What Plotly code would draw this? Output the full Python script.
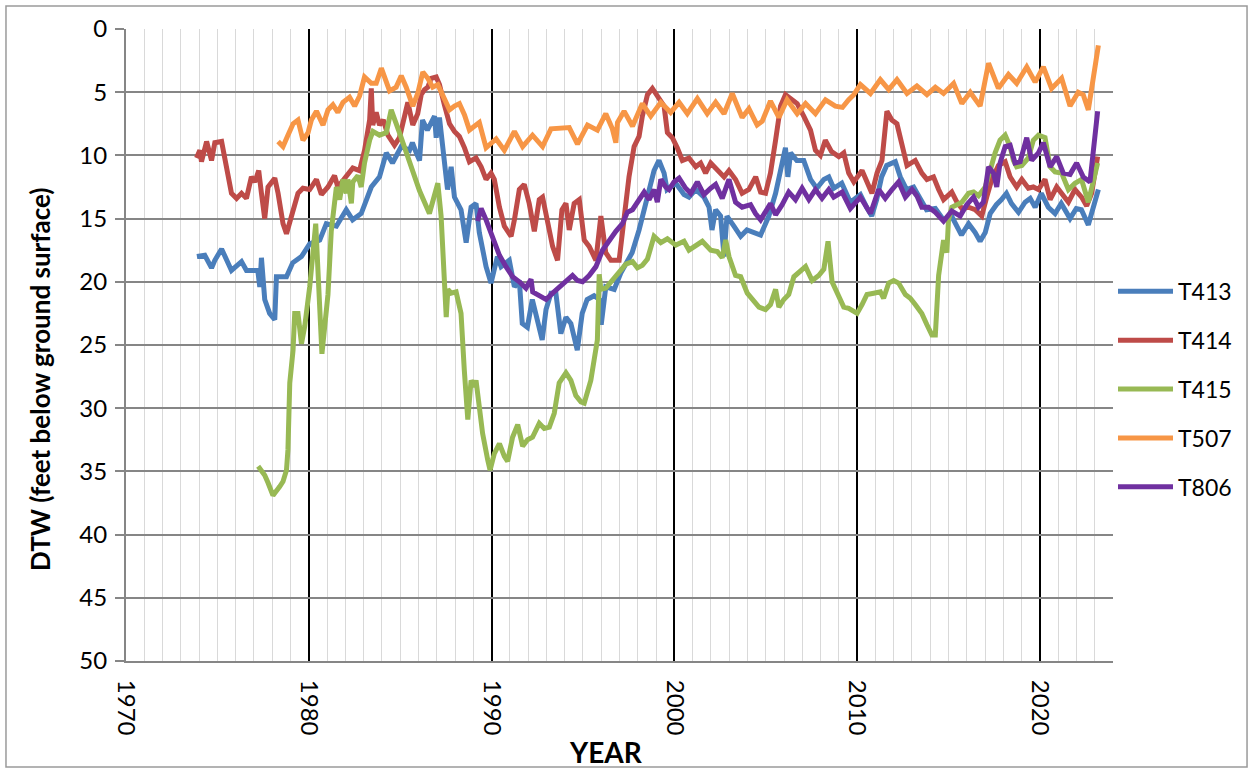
import plotly.graph_objects as go

# ---------------- data (year, depth to water in feet) ----------------
t413_years = [1973.88,1974.31,1974.68,1974.86,1975.23,1975.77,1976.32,1976.59,1977.21,1977.32,
              1977.41,1977.59,1977.86,1978.14,1978.23,1978.78,1979.12,1979.60,1980.05,1980.60,
              1980.96,1981.51,1982.05,1982.40,1982.87,1983.42,1983.87,1984.24,1984.58,1985.06,
              1985.51,1985.67,1985.88,1986.06,1986.22,1986.49,1986.88,1986.97,1987.15,1987.31,
              1987.59,1987.79,1987.97,1988.33,1988.61,1988.88,1989.15,1989.33,1989.70,1989.97,
              1990.32,1990.52,1990.97,1991.25,1991.52,1991.68,1991.96,1992.23,1992.50,1992.77,
              1992.98,1993.25,1993.52,1993.79,1994.07,1994.34,1994.69,1994.96,1995.23,1995.61,
              1995.90,1996.00,1996.25,1996.71,1997.07,1997.42,1997.69,1998.07,1998.35,1998.62,
              1998.89,1999.16,1999.44,1999.60,2000.08,2000.53,2000.80,2001.17,2001.62,2001.90,
              2002.06,2002.26,2002.53,2002.72,2002.88,2003.26,2003.63,2003.97,2004.35,2004.72,
              2005.17,2005.54,2005.81,2006.08,2006.21,2006.36,2006.70,2007.08,2007.45,2007.79,
              2008.18,2008.45,2008.72,2009.16,2009.63,2010.18,2010.52,2010.80,2011.07,2011.34,
              2011.62,2012.09,2012.36,2012.71,2013.09,2013.46,2013.80,2014.28,2014.73,2015.17,
              2015.44,2015.71,2016.10,2016.46,2016.73,2017.01,2017.28,2017.62,2017.90,2018.17,
              2018.44,2018.83,2019.19,2019.47,2019.74,2020.08,2020.46,2020.83,2021.17,2021.65,
              2021.99,2022.27,2022.65,2023.20]
t413_dtw = [18.0,17.9,18.9,18.3,17.4,19.1,18.4,19.1,19.1,20.4,
            18.1,21.4,22.5,23.0,19.6,19.6,18.5,18.0,17.0,16.7,
            15.4,15.6,14.3,15.1,14.6,12.5,11.7,9.8,10.6,9.3,
            9.6,9.0,9.8,10.4,7.2,8.0,6.9,8.6,7.0,8.8,
            12.7,10.9,13.3,14.3,16.9,14.1,13.8,16.1,18.8,20.1,
            18.0,18.8,18.3,20.4,19.9,23.3,23.6,21.4,23.0,24.6,
            22.2,20.9,20.9,24.1,22.8,23.3,25.4,22.5,21.4,21.1,
            21.4,23.4,20.4,20.6,19.3,18.5,17.7,15.9,14.3,12.5,
            11.2,10.4,11.4,12.7,12.2,13.1,13.3,12.7,13.3,14.1,
            15.9,14.3,14.8,18.0,14.8,15.6,16.4,15.9,16.1,16.3,
            14.8,13.0,11.2,9.4,11.7,9.8,10.4,10.4,11.9,12.6,
            11.9,11.7,12.6,12.2,13.7,13.1,14.1,14.8,13.5,11.7,
            10.8,10.5,11.7,12.7,12.5,13.5,14.3,14.2,15.1,14.8,
            15.6,16.3,15.4,16.1,16.8,16.1,14.6,13.9,13.5,13.0,
            13.8,14.5,13.7,13.4,14.1,13.0,14.1,14.6,13.8,15.0,
            14.2,14.3,15.5,12.7]

t414_years = [1973.86,1974.04,1974.13,1974.41,1974.68,1974.86,1975.23,1975.50,1975.77,1976.05,
              1976.32,1976.59,1976.86,1977.05,1977.26,1977.41,1977.59,1977.77,1978.14,1978.32,
              1978.59,1978.78,1979.14,1979.41,1979.68,1980.05,1980.42,1980.69,1981.05,1981.41,
              1981.59,1982.05,1982.41,1982.78,1983.05,1983.33,1983.42,1983.50,1983.69,1983.87,
              1984.08,1984.33,1984.69,1984.96,1985.24,1985.42,1985.69,1985.96,1986.15,1986.33,
              1986.51,1986.70,1986.97,1987.15,1987.42,1987.70,1987.97,1988.24,1988.52,1988.79,
              1989.15,1989.43,1989.70,1989.97,1990.15,1990.43,1990.70,1991.07,1991.25,1991.52,
              1991.79,1992.06,1992.34,1992.61,1992.79,1993.06,1993.34,1993.61,1993.85,1994.07,
              1994.25,1994.52,1994.80,1995.07,1995.34,1995.71,1995.98,1996.25,1996.53,1996.98,
              1997.25,1997.52,1997.80,1998.07,1998.25,1998.53,1998.80,1999.16,1999.44,1999.62,
              1999.89,2000.16,2000.44,2000.80,2001.17,2001.44,2001.71,2001.99,2002.35,2002.72,
              2002.99,2003.35,2003.71,2004.08,2004.45,2004.72,2004.99,2005.26,2005.54,2005.81,
              2006.08,2006.44,2006.72,2007.08,2007.45,2007.72,2007.99,2008.26,2008.60,2009.00,
              2009.27,2009.54,2009.82,2010.27,2010.54,2010.81,2011.09,2011.36,2011.63,2011.90,
              2012.18,2012.45,2012.73,2013.18,2013.54,2013.82,2014.18,2014.46,2014.73,2015.18,
              2015.46,2015.73,2016.10,2016.46,2016.82,2017.09,2017.37,2017.73,2018.10,2018.37,
              2018.73,2019.01,2019.37,2019.64,2019.92,2020.28,2020.56,2020.92,2021.19,2021.56,
              2021.92,2022.28,2022.56,2022.83,2023.16]
t414_dtw = [10.2,9.6,10.5,8.9,10.4,9.0,8.9,11.2,13.0,13.4,
            13.0,13.4,11.7,12.1,11.2,13.0,15.0,12.5,11.8,13.0,
            15.4,16.2,14.3,13.0,12.6,12.7,11.9,13.1,12.5,11.6,
            12.5,11.7,11.0,11.2,9.6,7.2,4.7,7.6,6.6,7.6,
            7.2,8.4,9.2,8.6,6.8,5.8,7.6,6.7,5.2,4.8,
            4.6,3.9,3.8,4.4,6.0,7.5,8.1,8.5,9.4,10.5,
            10.2,10.9,11.9,11.4,11.9,14.1,15.6,16.4,15.1,12.7,
            12.3,13.8,16.0,13.5,13.3,15.1,17.2,18.3,14.3,13.8,
            15.9,13.8,13.5,16.7,17.2,18.3,14.8,17.7,18.3,18.3,
            14.6,11.7,9.3,8.5,6.9,5.2,4.7,5.4,6.1,8.2,
            8.6,9.4,10.4,10.2,10.9,10.6,11.4,10.6,11.2,11.7,
            11.2,11.9,13.0,12.7,11.7,12.9,13.0,11.4,8.8,6.1,
            5.2,5.6,5.9,6.9,8.0,9.6,10.0,8.8,9.7,10.1,
            9.8,11.4,12.1,11.2,12.2,13.0,11.4,10.4,6.5,7.2,
            7.5,9.3,10.8,10.4,11.4,11.9,11.7,12.7,13.5,12.9,
            13.7,14.2,14.1,14.3,14.8,13.3,11.9,10.8,10.5,11.7,
            12.5,11.9,12.6,12.5,12.7,11.9,13.5,12.5,13.0,13.7,
            12.7,13.3,14.0,13.0,10.1]

t415_years = [1977.23,1977.59,1977.77,1978.04,1978.41,1978.59,1978.78,1978.86,1978.96,1979.14,
              1979.23,1979.41,1979.60,1979.78,1980.05,1980.38,1980.72,1981.05,1981.23,1981.51,
              1981.69,1981.87,1982.05,1982.14,1982.33,1982.41,1982.69,1982.87,1983.05,1983.33,
              1983.51,1983.87,1984.24,1984.51,1984.96,1985.51,1986.06,1986.60,1986.88,1987.06,
              1987.24,1987.42,1987.52,1987.61,1987.79,1988.06,1988.33,1988.51,1988.70,1988.88,
              1989.06,1989.15,1989.33,1989.51,1989.79,1989.92,1990.15,1990.43,1990.70,1990.88,
              1991.15,1991.43,1991.70,1991.97,1992.24,1992.61,1992.88,1993.16,1993.43,1993.70,
              1994.07,1994.34,1994.61,1994.89,1995.07,1995.25,1995.43,1995.61,1995.79,1995.89,
              1995.98,1996.25,1996.61,1996.89,1997.07,1997.35,1997.71,1997.98,1998.25,1998.53,
              1998.89,1999.26,1999.62,2000.08,2000.53,2000.80,2001.53,2001.99,2002.35,2002.62,
              2002.81,2002.99,2003.35,2003.63,2003.99,2004.26,2004.63,2004.99,2005.26,2005.54,
              2005.72,2005.99,2006.26,2006.54,2006.90,2007.18,2007.54,2007.90,2008.18,2008.41,
              2008.63,2009.00,2009.27,2009.54,2009.82,2010.00,2010.27,2010.54,2010.91,2011.27,
              2011.45,2011.73,2012.00,2012.27,2012.64,2012.91,2013.18,2013.54,2013.82,2014.09,
              2014.28,2014.46,2014.73,2014.91,2015.00,2015.18,2015.46,2015.73,2016.10,2016.37,
              2016.64,2017.01,2017.28,2017.55,2017.82,2018.10,2018.37,2018.55,2018.73,2019.01,
              2019.37,2019.64,2019.92,2020.28,2020.56,2020.83,2021.19,2021.56,2021.92,2022.28,
              2022.65,2023.16]
t415_dtw = [34.6,35.3,35.9,36.9,36.2,35.8,34.9,33.3,28.0,25.4,
            22.5,22.5,24.9,23.5,20.4,15.4,25.7,21.0,16.0,12.5,
            13.5,11.9,13.0,11.9,13.8,12.1,11.6,12.5,10.6,8.8,
            8.1,8.4,8.2,6.4,8.2,10.6,12.8,14.6,13.0,12.2,
            14.8,20.6,22.8,20.6,20.9,20.8,22.5,27.0,30.9,27.8,
            28.3,27.8,29.9,32.0,34.1,34.9,33.6,32.8,33.8,34.2,
            32.3,31.3,33.0,32.5,32.3,31.2,31.6,31.5,30.4,28.0,
            27.2,27.8,29.0,29.5,29.6,28.8,27.8,26.2,24.6,19.4,
            20.6,20.5,19.9,19.4,19.2,18.6,18.4,18.9,18.7,18.2,
            16.4,16.9,16.6,17.1,16.8,17.5,16.8,17.5,17.6,18.1,
            16.7,18.0,19.5,19.6,20.9,21.4,22.0,22.2,21.8,20.6,
            22.0,21.4,21.0,19.6,19.2,18.8,19.9,19.5,19.0,16.8,
            20.0,21.2,22.0,22.1,22.4,22.5,21.8,21.0,20.9,20.8,
            21.3,20.1,19.9,20.1,21.0,21.3,21.8,22.5,23.4,24.2,
            24.2,19.5,16.7,17.7,15.1,14.1,13.9,13.7,13.0,12.9,
            13.2,12.5,11.2,9.8,8.8,8.4,9.3,10.4,10.9,10.8,
            10.2,8.8,8.4,8.6,10.9,11.3,11.4,12.7,12.2,11.9,
            13.7,10.6]

t507_years = [1978.32,1978.59,1978.86,1979.14,1979.41,1979.68,1979.96,1980.14,1980.42,1980.78,
              1981.05,1981.32,1981.59,1981.87,1982.23,1982.51,1982.78,1983.05,1983.42,1983.69,
              1983.97,1984.24,1984.42,1984.78,1985.06,1985.33,1985.69,1985.96,1986.24,1986.51,
              1986.78,1987.06,1987.42,1987.70,1987.97,1988.24,1988.52,1988.79,1989.06,1989.33,
              1989.70,1990.25,1990.70,1991.25,1991.70,1992.24,1992.79,1993.25,1994.25,1994.70,
              1995.25,1995.79,1996.25,1996.61,1996.80,1996.89,1997.25,1997.71,1998.25,1998.71,
              1999.26,1999.80,2000.26,2000.71,2001.26,2001.80,2002.26,2002.72,2003.17,2003.71,
              2004.08,2004.53,2004.81,2005.26,2005.72,2006.17,2006.72,2007.18,2007.72,2008.27,
              2008.81,2009.20,2009.54,2009.82,2010.18,2010.73,2011.27,2011.73,2012.18,2012.73,
              2013.27,2013.82,2014.28,2014.73,2015.28,2015.73,2016.19,2016.73,2017.19,2017.73,
              2018.28,2018.73,2019.28,2019.74,2020.19,2020.64,2021.19,2021.65,2022.10,2022.37,
              2022.65,2023.20]
t507_dtw = [8.9,9.3,8.4,7.5,7.2,8.8,8.2,7.2,6.5,7.6,
            6.4,6.0,6.6,5.8,5.4,6.1,5.3,3.8,4.3,4.3,
            3.1,4.2,4.9,4.6,3.7,4.6,6.1,5.1,3.4,3.9,
            4.6,4.4,5.6,6.4,6.1,5.9,6.8,8.0,7.7,7.4,
            9.4,8.7,9.6,8.1,9.3,8.4,9.3,7.9,7.8,9.1,
            7.6,8.0,6.7,7.9,9.0,7.4,6.5,7.7,5.9,6.9,
            5.8,6.6,5.8,6.7,5.5,6.7,5.8,6.7,5.1,7.0,
            6.3,7.6,7.3,5.7,7.0,5.6,6.7,5.9,6.7,5.6,
            6.1,6.2,5.6,5.2,4.4,5.1,4.0,4.8,4.0,5.1,
            4.5,5.2,4.6,5.1,4.3,5.9,5.0,6.1,2.7,4.7,
            3.6,4.3,3.0,4.2,3.0,4.7,3.9,6.1,5.0,5.2,
            6.4,1.3]

t806_years = [1989.24,1989.43,1989.70,1990.06,1990.43,1990.79,1991.15,1991.52,1991.88,1992.16,
              1992.25,1992.61,1992.98,1993.34,1993.70,1994.07,1994.43,1994.70,1994.98,1995.34,
              1995.71,1996.07,1996.43,1996.80,1997.16,1997.43,1997.71,1998.07,1998.35,1998.62,
              1998.89,1999.07,1999.26,1999.53,1999.71,1999.98,2000.26,2000.62,2000.90,2001.26,
              2001.62,2001.99,2002.26,2002.62,2002.99,2003.35,2003.71,2004.17,2004.44,2004.72,
              2005.08,2005.26,2005.54,2005.90,2006.26,2006.63,2006.99,2007.36,2007.72,2008.08,
              2008.45,2008.72,2009.18,2009.63,2010.18,2010.45,2010.73,2011.18,2011.54,2011.91,
              2012.27,2012.64,2013.00,2013.27,2013.54,2013.91,2014.28,2014.73,2015.18,2015.64,
              2016.00,2016.37,2016.64,2016.91,2017.19,2017.46,2017.64,2017.82,2018.10,2018.37,
              2018.64,2018.92,2019.28,2019.55,2019.92,2020.19,2020.56,2020.92,2021.28,2021.65,
              2022.01,2022.37,2022.74,2023.16]
t806_dtw = [15.2,14.2,15.1,16.4,17.9,18.8,19.6,20.0,20.5,19.8,
            20.8,21.1,21.4,20.9,20.4,19.9,19.5,19.9,20.0,19.5,
            18.8,17.5,16.7,16.0,15.4,14.5,14.3,13.5,12.9,13.5,
            12.7,13.7,11.9,12.5,12.7,12.1,11.8,12.6,13.0,12.1,
            13.1,12.6,12.3,13.4,11.9,13.7,14.1,13.9,14.6,15.1,
            14.2,13.8,14.7,13.9,12.9,13.5,12.6,13.5,12.7,13.4,
            12.7,13.3,12.9,14.2,13.3,13.9,14.6,12.7,13.4,12.7,
            12.1,13.3,12.7,13.2,14.1,14.1,14.5,15.2,14.4,14.8,
            13.9,13.3,14.1,13.7,10.9,11.4,12.5,10.6,9.3,9.2,
            10.6,10.5,8.6,10.4,9.8,9.0,10.9,10.1,11.4,11.5,
            10.6,11.7,12.1,6.5]

series_names = ["T413", "T414", "T415", "T507", "T806"]
series_years = [t413_years, t414_years, t415_years, t507_years, t806_years]
series_values = [t413_dtw, t414_dtw, t415_dtw, t507_dtw, t806_dtw]
series_colors = ["#4A7EBB", "#BE4B48", "#98B954", "#F79646", "#7030A0"]

x_tick_values = [1970, 1980, 1990, 2000, 2010, 2020]
y_tick_values = [0, 5, 10, 15, 20, 25, 30, 35, 40, 45, 50]

FONT = "Lato, Carlito, Calibri, sans-serif"

fig = go.Figure()
for name, xs, ys, col in zip(series_names, series_years, series_values, series_colors):
    fig.add_trace(go.Scatter(
        x=xs, y=ys, mode="lines", name=name, legendgroup=name,
        line=dict(color=col, width=5),
    ))

fig.update_layout(
    width=1253, height=773,
    margin=dict(l=126, r=140, t=29, b=112),
    paper_bgcolor="white", plot_bgcolor="white",
    font=dict(family=FONT, color="black", size=22),
    showlegend=True,
    legend=dict(
        x=1.0, xanchor="left", y=0.619, yanchor="top",
        font=dict(family=FONT, size=23, color="black"),
        tracegroupgap=16, itemwidth=55, bgcolor="rgba(0,0,0,0)",
    ),
    xaxis=dict(
        range=[1970, 2024], tickmode="array", tickvals=x_tick_values,
        ticktext=[str(v) for v in x_tick_values], tickangle=90,
        tickfont=dict(family=FONT, size=24), ticks="", ticklabelstandoff=12,
        showgrid=True, gridcolor="black", gridwidth=1.5,
        minor=dict(dtick=1, tick0=1970, showgrid=True, gridcolor="#D9D9D9", gridwidth=1),
        showline=True, linecolor="#868686", linewidth=2, zeroline=False, mirror=False,
    ),
    yaxis=dict(
        range=[50, 0], tickmode="array", tickvals=y_tick_values,
        tickfont=dict(family=FONT, size=24), ticks="outside", ticklen=9,
        tickcolor="#868686", tickwidth=2, ticklabelstandoff=3,
        showgrid=True, gridcolor="#868686", gridwidth=2,
        showline=True, linecolor="#868686", linewidth=2, zeroline=False,
    ),
    annotations=[
        dict(text="<b>DTW (feet below ground surface)</b>", xref="paper", yref="paper",
             x=-0.087, y=0.445, xanchor="center", yanchor="middle", textangle=-90,
             showarrow=False, font=dict(family=FONT, size=26, color="black")),
        dict(text="<b>YEAR</b>", xref="paper", yref="paper",
             x=0.486, y=-0.144, xanchor="center", yanchor="middle", showarrow=False,
             font=dict(family=FONT, size=28, color="black")),
    ],
    shapes=[
        dict(type="rect", xref="paper", yref="paper",
             x0=-0.1216, x1=1.1358, y0=-0.1677, y1=1.0364,
             line=dict(color="#9A9A9A", width=1.5), fillcolor="rgba(0,0,0,0)", layer="below"),
    ],
)

fig.write_html("out.html", config={"displayModeBar": False},
               post_script="document.body.style.margin='0';")
